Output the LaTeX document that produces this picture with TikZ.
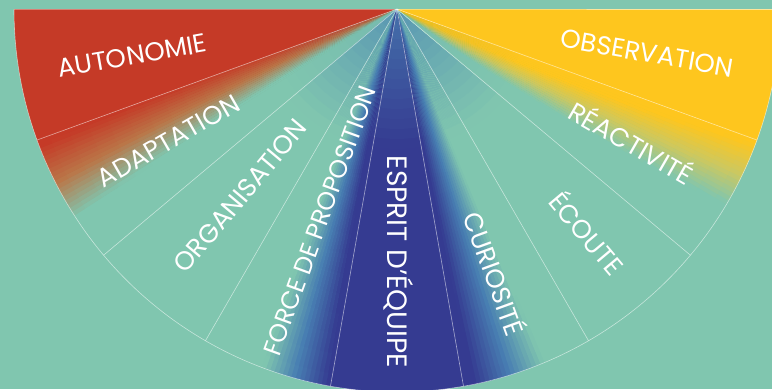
\documentclass[tikz,border=0pt]{standalone}
\usepackage{fontspec}
\setmainfont{Poppins}
\definecolor{cteal}{RGB}{128,198,175}
\definecolor{cred}{RGB}{197,58,39}
\definecolor{cyel}{RGB}{254,198,30}
\definecolor{cnavy}{RGB}{53,59,145}
\definecolor{cmid}{RGB}{72,126,178}
\definecolor{covl}{RGB}{74,132,180}
\definecolor{cmr}{RGB}{186,118,72}
\definecolor{cty}{RGB}{205,200,95}
\begin{document}
\begin{tikzpicture}[x=1pt,y=1pt,
  lbl/.style={text=white, inner sep=0pt, font=\fontsize{26}{26}\selectfont, text height=18.2pt, text depth=0pt},
  lblforce/.style={lbl, font=\fontsize{25}{25}\selectfont, text height=17.5pt},
  lblbig/.style={lbl, font=\fontsize{28}{28}\selectfont, text height=19.6pt},
  sepline/.style={draw=white, draw opacity=0.55, line width=0.6pt}]
\useasboundingbox (-397,-380) rectangle (375,9);
\fill[cteal] (-397,-380) rectangle (375,9);
\coordinate (O) at (0,0);
\begin{scope}
\clip (O) -- (180:383) arc[start angle=180,end angle=360,radius=383] -- cycle;
\foreach \kk/\angA/\colA/\colM/\colB/\cOut/\cIn/\hw/\ovl/\nsub in {
 0/180/cred/cred/cred/0.5/0.5/0.5/0/1,
 1/200/cred/cmr/cteal/0.35/0.2/0.3/0.25/30,
 2/220/cteal/cteal/cteal/0.5/0.5/0.5/1/1,
 3/240/cteal/cmid/cnavy/0.73/0.6/0.25/1/30,
 4/260/cnavy/cnavy/cnavy/0.5/0.5/0.5/1/1,
 5/280/cnavy/cmid/cteal/0.36/0.3/0.27/1/30,
 6/300/cteal/cteal/cteal/0.5/0.5/0.5/1/1,
 7/320/cteal/cty/cyel/0.72/0.48/0.25/0.2/30,
 8/340/cyel/cyel/cyel/0.5/0.5/0.5/0/1}{
  \foreach \j in {1,...,\nsub}{
    \pgfmathsetmacro\gTa{\angA+20*(\j-1)/\nsub}
    \pgfmathsetmacro\gTb{\angA+20*\j/\nsub+0.4}
    \pgfmathsetmacro\gT{(\j-0.5)/\nsub}
    \foreach \rr in {390,370,350,330,310,290,270,250,230,210,190,170,150,140,130,120,110,100,90,80,70,60,50,40,30,20,10}{
      \pgfmathsetmacro\gR{\rr-7}
      \pgfmathsetmacro\gC{\cOut+(\cIn-\cOut)*(1-\gR/383)}
      \pgfmathsetmacro\gF{min(1,max(0,(\gT-\gC)/(2*\hw)+0.5))}
      \pgfmathsetmacro\gW{\ovl*max(0,1-\gR/135)*72}
      \ifdim\gF pt<0.5pt
        \pgfmathsetmacro\gP{200*\gF}\colorlet{bc}{\colM!\gP!\colA}
      \else
        \pgfmathsetmacro\gP{200*\gF-100}\colorlet{bc}{\colB!\gP!\colM}
      \fi
      \colorlet{fc}{covl!\gW!bc}
      \fill[fc] (O) -- (\gTa:\rr) arc[start angle=\gTa, end angle=\gTb, radius=\rr] -- cycle;
    }
  }
}
\end{scope}
\coordinate (eL) at (180:383);
\coordinate (eR) at (0:383);
\foreach \a [count=\i] in {200,220,...,340}{
  \coordinate (e\i) at (\a:383);
  \draw[sepline] (O) -- (e\i);
}
\draw[sepline] (eL) -- (O) -- (eR);
\draw[sepline] (eL) arc[start angle=180,end angle=360,radius=383];
\node[lbl, rotate=10] (autonomie) at (190:269) {AUTONOMIE};
\node[lbl, rotate=30] (adaptation) at (210:264) {ADAPTATION};
\node[lbl, rotate=50] (organisation) at (230:244) {ORGANISATION};
\node[lblforce, rotate=70] (force) at (250:225) {FORCE DE PROPOSITION};
\node[lblbig, rotate=-90] (esprit) at (270:253) {ESPRIT D'ÉQUIPE};
\node[lbl, rotate=-70] (curiosite) at (290:282) {CURIOSITÉ};
\node[lbl, rotate=-50] (ecoute) at (310:294) {ÉCOUTE};
\node[lbl, rotate=-30] (reactivite) at (330:270) {RÉACTIVITÉ};
\node[lbl, rotate=-10] (observation) at (350:254) {OBSERVATION};
\end{tikzpicture}
\end{document}
